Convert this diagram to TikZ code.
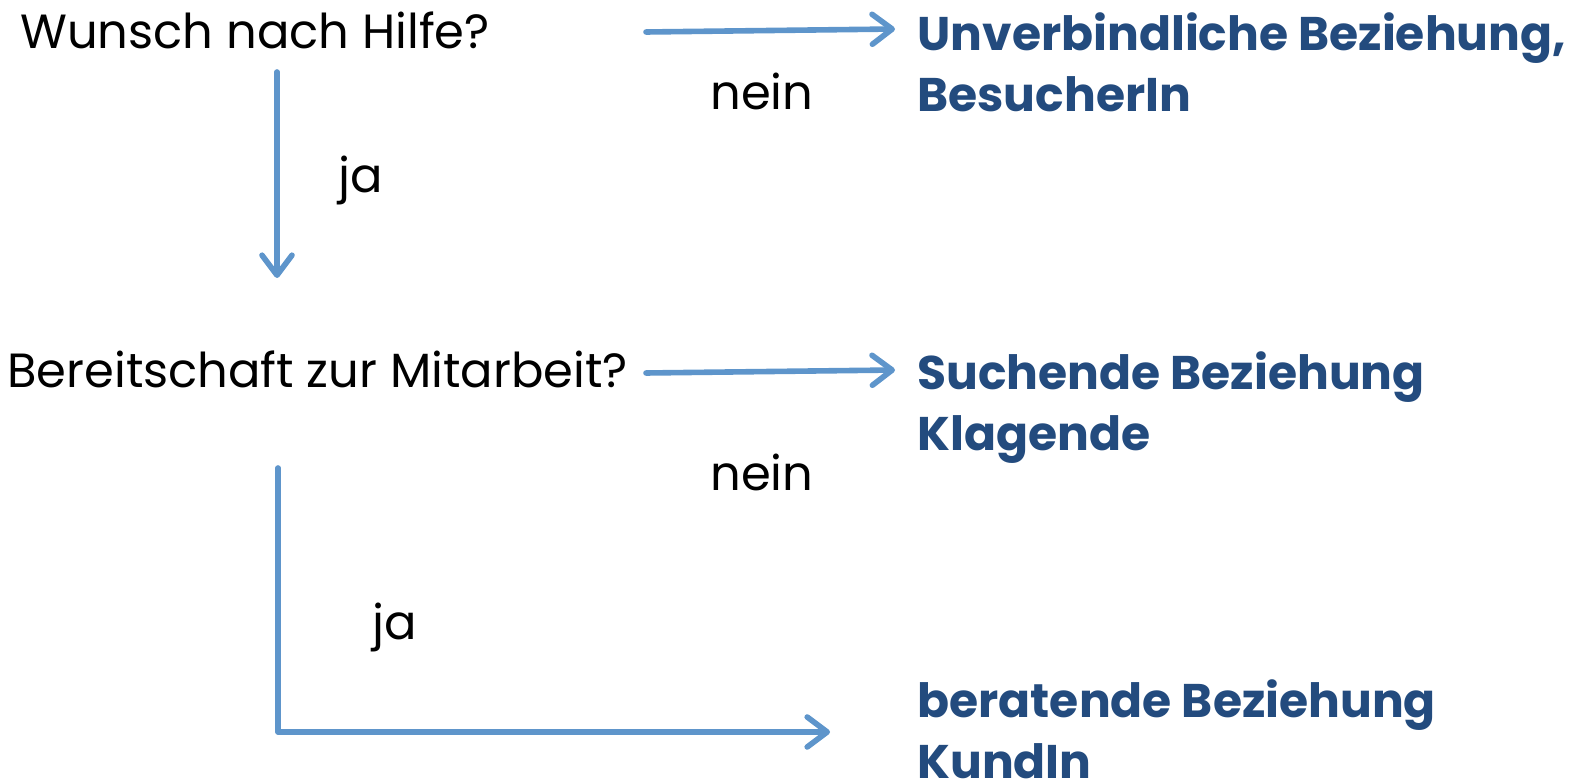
\documentclass[tikz,border=0pt]{standalone}
\usepackage{fontspec}
\setmainfont{Poppins}
\usetikzlibrary{arrows.meta,positioning}
\definecolor{lineblue}{HTML}{5E95CB}
\definecolor{navy}{HTML}{234B7E}
\tikzset{
  question/.style={anchor=base west, inner sep=0pt, font=\fontsize{24}{29}\selectfont},
  answer/.style={anchor=base west, inner sep=0pt, font=\fontsize{24}{29}\selectfont},
  outcome/.style={anchor=base west, inner sep=0pt, align=left, text=navy,
    font=\fontsize{23.6}{30.5}\selectfont\bfseries},
  flowarrow/.style={-{Straight Barb[length=10pt,width=15pt,line cap=round,line join=round]},
    draw=lineblue, line width=2.8pt, line cap=round, line join=round},
}
\begin{document}
\begin{tikzpicture}[x=0.5pt, y=-0.5pt]
  \useasboundingbox (0,0) rectangle (1571,781);
  % questions
  \node[question] (wunsch) at (20,49) {Wunsch nach Hilfe?};
  \node[question] (bereit) at (7,387) {Bereitschaft zur Mitarbeit?};
  % outcomes (anchored on the last line)
  \node[outcome] (unverb) at (917,112) {Unverbindliche Beziehung,\\BesucherIn};
  \node[outcome] (suchend) at (917,450) {Suchende Beziehung\\Klagende};
  \node[outcome] (beratend) at (917,778) {beratende Beziehung\\KundIn};
  % answers
  \node[answer] (nein1) at (710,110) {nein};
  \node[answer] (ja1) at (338,192) {ja};
  \node[answer] (nein2) at (710,490) {nein};
  \node[answer] (ja2) at (372,639) {ja};
  % arrow ends
  \coordinate (n1s) at (646,32);
  \coordinate (n1e) at (895,29);
  \coordinate (j1s) at (277,72);
  \coordinate (j1e) at (277,278);
  \coordinate (n2s) at (646,373);
  \coordinate (n2e) at (895,370);
  \coordinate (j2s) at (278,468);
  \coordinate (j2e) at (830,732);
  \draw[flowarrow] (n1s) -- (n1e);
  \draw[flowarrow] (j1s) -- (j1e);
  \draw[flowarrow] (n2s) -- (n2e);
  \draw[flowarrow] (j2s) |- (j2e);
\end{tikzpicture}
\end{document}
